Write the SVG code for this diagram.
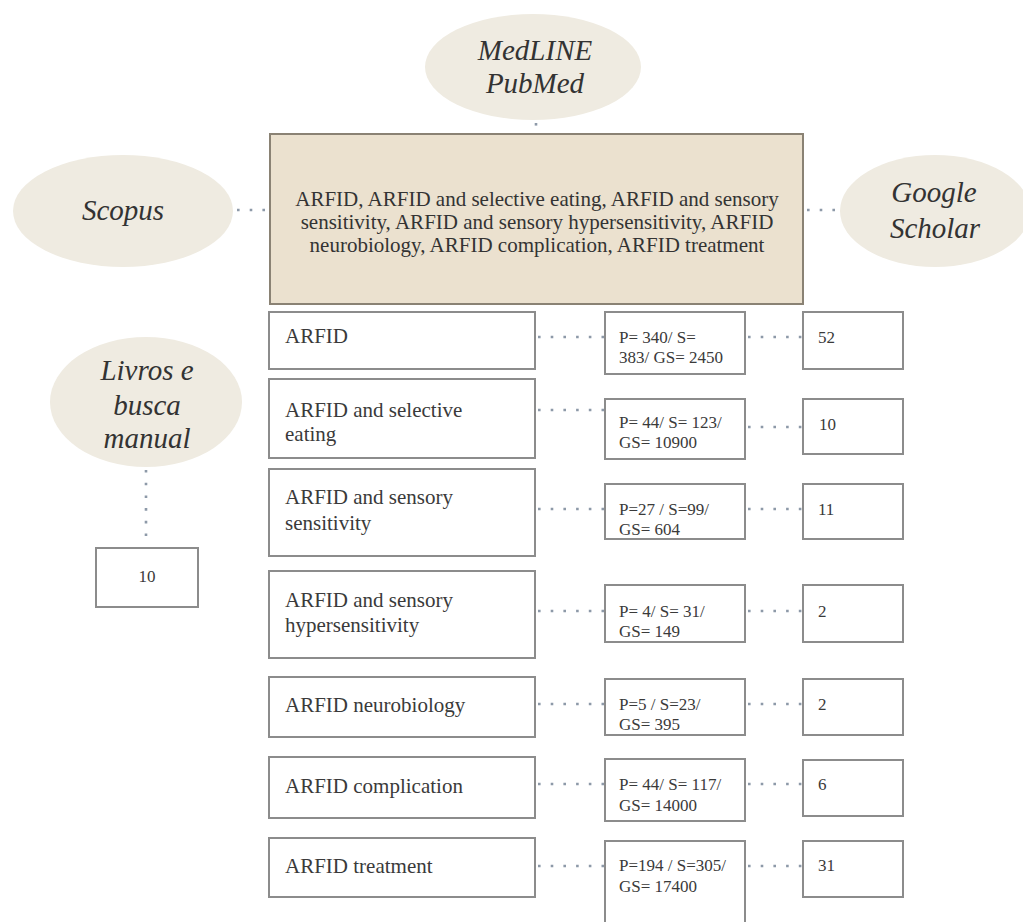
<svg xmlns="http://www.w3.org/2000/svg" width="1023" height="922" viewBox="0 0 1023 922">
<style>
.bg{fill:#ffffff}
.ell{fill:#efebe1}
.main{fill:#ebe1cf;stroke:#8a8274;stroke-width:2}
.box{fill:#ffffff;stroke:#8c8c8c;stroke-width:2}
.dot{stroke:#8d99a8;stroke-width:2.6;stroke-dasharray:2.6 10.1;fill:none}
.lab{font-family:"Liberation Serif","Times New Roman",serif;font-style:italic;font-size:29px;fill:#333333;text-anchor:middle}
.mt{font-family:"Liberation Serif","Times New Roman",serif;font-size:21px;fill:#333333;text-anchor:middle}
.lt{font-family:"Liberation Serif","Times New Roman",serif;font-size:21px;fill:#3a3a3a}
.md{font-family:"Liberation Serif","Times New Roman",serif;font-size:17px;fill:#3a3a3a}
</style>
<rect class="bg" x="0" y="0" width="1023" height="922"/>
<g id="connectors">
<line class="dot" x1="536" y1="123" x2="536" y2="130"/>
<line class="dot" x1="237" y1="210" x2="268" y2="210"/>
<line class="dot" x1="807" y1="210" x2="838" y2="210"/>
<line class="dot" x1="146" y1="470" x2="146" y2="545"/>
<line class="dot" x1="538" y1="337" x2="604" y2="337"/>
<line class="dot" x1="748" y1="337" x2="802" y2="337"/>
<line class="dot" x1="538" y1="410" x2="604" y2="410"/>
<line class="dot" x1="748" y1="427" x2="802" y2="427"/>
<line class="dot" x1="538" y1="509" x2="604" y2="509"/>
<line class="dot" x1="748" y1="509" x2="802" y2="509"/>
<line class="dot" x1="538" y1="611" x2="604" y2="611"/>
<line class="dot" x1="748" y1="611" x2="802" y2="611"/>
<line class="dot" x1="538" y1="704" x2="604" y2="704"/>
<line class="dot" x1="748" y1="704" x2="802" y2="704"/>
<line class="dot" x1="538" y1="784" x2="604" y2="784"/>
<line class="dot" x1="748" y1="784" x2="802" y2="784"/>
<line class="dot" x1="538" y1="866" x2="604" y2="866"/>
<line class="dot" x1="748" y1="866" x2="802" y2="866"/>
</g>
<g id="medline"><ellipse class="ell" cx="533" cy="67" rx="108" ry="53"/><text class="lab" x="535" y="60">MedLINE</text><text class="lab" x="535" y="93">PubMed</text></g>
<g id="scopus"><ellipse class="ell" cx="123" cy="211" rx="110" ry="56"/><text class="lab" x="123" y="220">Scopus</text></g>
<g id="google"><ellipse class="ell" cx="935" cy="211" rx="95" ry="56"/><text class="lab" x="934" y="202">Google</text><text class="lab" x="935" y="238">Scholar</text></g>
<g id="livros"><ellipse class="ell" cx="146" cy="402" rx="96" ry="65"/><text class="lab" x="147" y="380">Livros e</text><text class="lab" x="147" y="415">busca</text><text class="lab" x="147" y="448">manual</text></g>
<g id="livros-count"><rect class="box" x="96" y="548" width="102" height="59"/><text class="md" x="147" y="582" text-anchor="middle">10</text></g>
<g id="terms"><rect class="main" x="270" y="134" width="533" height="170"/>
<text class="mt" x="537" y="206">ARFID, ARFID and selective eating, ARFID and sensory</text>
<text class="mt" x="537" y="229">sensitivity, ARFID and sensory hypersensitivity, ARFID</text>
<text class="mt" x="537" y="252">neurobiology, ARFID complication, ARFID treatment</text></g>
<g id="row1">
<rect class="box" x="269" y="312" width="266" height="57"/><text class="lt" x="285" y="343">ARFID</text>
<rect class="box" x="605" y="312" width="140" height="62"/><text class="md" x="619" y="343">P= 340/ S=</text><text class="md" x="619" y="363">383/ GS= 2450</text>
<rect class="box" x="803" y="312" width="100" height="57"/><text class="md" x="818" y="343">52</text></g>
<g id="row2">
<rect class="box" x="269" y="379" width="266" height="79"/><text class="lt" x="285" y="417">ARFID and selective</text><text class="lt" x="285" y="441">eating</text>
<rect class="box" x="605" y="399" width="140" height="60"/><text class="md" x="619" y="428">P= 44/ S= 123/</text><text class="md" x="619" y="448">GS= 10900</text>
<rect class="box" x="803" y="399" width="100" height="55"/><text class="md" x="819" y="430">10</text></g>
<g id="row3">
<rect class="box" x="269" y="469" width="266" height="87"/><text class="lt" x="285" y="504">ARFID and sensory</text><text class="lt" x="285" y="530">sensitivity</text>
<rect class="box" x="605" y="484" width="140" height="55"/><text class="md" x="619" y="515">P=27 / S=99/</text><text class="md" x="619" y="535">GS= 604</text>
<rect class="box" x="803" y="484" width="100" height="55"/><text class="md" x="818" y="515">11</text></g>
<g id="row4">
<rect class="box" x="269" y="571" width="266" height="87"/><text class="lt" x="285" y="607">ARFID and sensory</text><text class="lt" x="285" y="632">hypersensitivity</text>
<rect class="box" x="605" y="585" width="140" height="57"/><text class="md" x="619" y="617">P= 4/ S= 31/</text><text class="md" x="619" y="637">GS= 149</text>
<rect class="box" x="803" y="585" width="100" height="57"/><text class="md" x="818" y="617">2</text></g>
<g id="row5">
<rect class="box" x="269" y="677" width="266" height="60"/><text class="lt" x="285" y="712">ARFID neurobiology</text>
<rect class="box" x="605" y="679" width="140" height="56"/><text class="md" x="619" y="710">P=5 / S=23/</text><text class="md" x="619" y="730">GS= 395</text>
<rect class="box" x="803" y="679" width="100" height="56"/><text class="md" x="818" y="710">2</text></g>
<g id="row6">
<rect class="box" x="269" y="757" width="266" height="61"/><text class="lt" x="285" y="793">ARFID complication</text>
<rect class="box" x="605" y="759" width="140" height="62"/><text class="md" x="619" y="790">P= 44/ S= 117/</text><text class="md" x="619" y="811">GS= 14000</text>
<rect class="box" x="803" y="760" width="100" height="56"/><text class="md" x="818" y="790">6</text></g>
<g id="row7">
<rect class="box" x="269" y="838" width="266" height="59"/><text class="lt" x="285" y="873">ARFID treatment</text>
<rect class="box" x="605" y="841" width="140" height="100"/><text class="md" x="619" y="871">P=194 / S=305/</text><text class="md" x="619" y="892">GS= 17400</text>
<rect class="box" x="803" y="841" width="100" height="56"/><text class="md" x="818" y="871">31</text></g>
</svg>
